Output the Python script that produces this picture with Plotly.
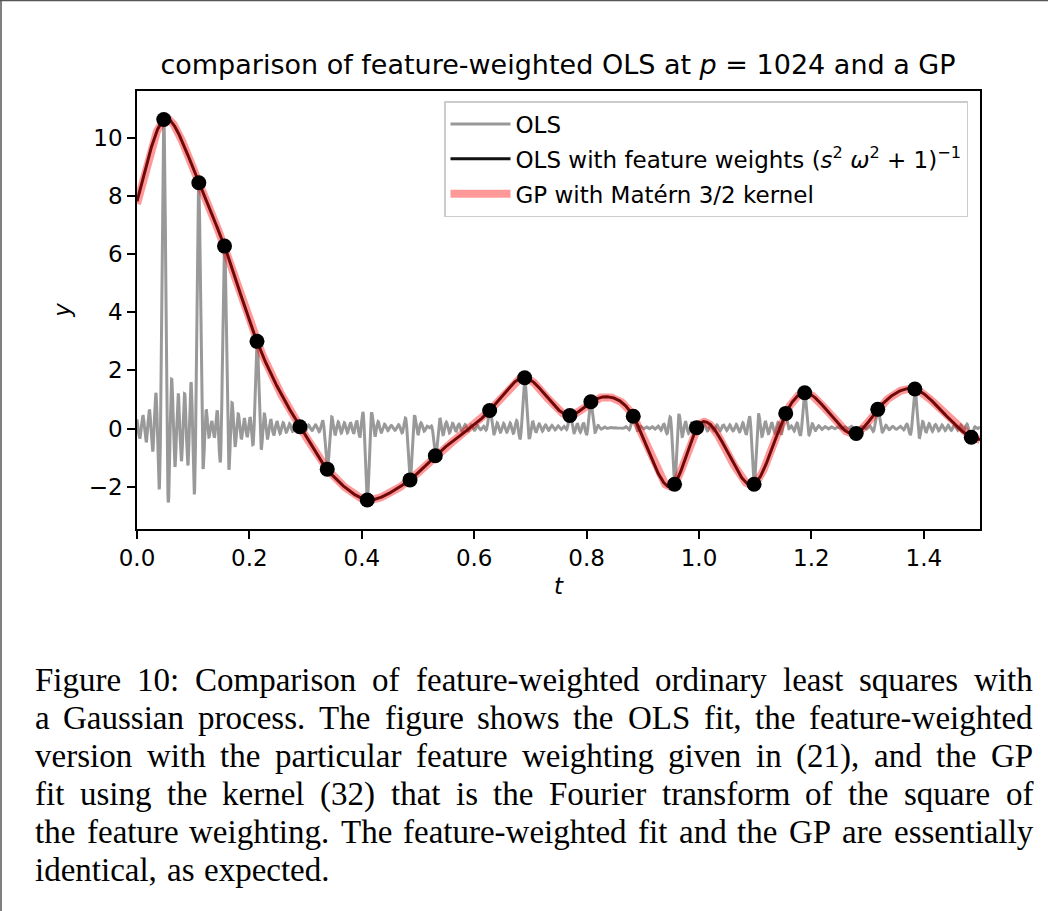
import numpy as np
import plotly.graph_objects as go

t_obs = [0.0476, 0.110, 0.1557, 0.2135, 0.2898, 0.3385, 0.4097, 0.4858, 0.5308,
         0.6275, 0.6898, 0.7702, 0.8076, 0.8830, 0.9565, 0.9957, 1.098,
         1.1543, 1.1881, 1.2797, 1.3181, 1.3841, 1.4845]
y_obs = [10.64, 8.46, 6.28, 3.00, 0.06, -1.40, -2.46, -1.77, -0.94,
         0.62, 1.75, 0.45, 0.92, 0.42, -1.92, 0.03, -1.92,
         0.52, 1.23, -0.17, 0.66, 1.36, -0.30]

# Model settings named in the title / legend
p = 1024          # number of Fourier features
s = 0.05          # length scale in the feature weights
d_omega = 1.1     # frequency spacing

x_ticks = [0.0, 0.2, 0.4, 0.6, 0.8, 1.0, 1.2, 1.4]
y_ticks = [-2, 0, 2, 4, 6, 8, 10]

caption_lines = [
    "Figure 10: Comparison of feature-weighted ordinary least squares with",
    "a Gaussian process. The figure shows the OLS fit, the feature-weighted",
    "version with the particular feature weighting given in (21), and the GP",
    "fit using the kernel (32) that is the Fourier transform of the square of",
    "the feature weighting. The feature-weighted fit and the GP are essentially",
    "identical, as expected.",
]

# ---- fits of the observed samples ----
t_grid = np.linspace(0, 1.5, 3001)
omegas = d_omega * np.arange(p // 2)
tobs = np.array(t_obs)
yobs = np.array(y_obs)


def features(t, w):
    t = np.asarray(t)[:, None]
    return np.hstack([np.cos(t * omegas) * w, np.sin(t * omegas) * w])


def ols_fit(w):
    beta = np.linalg.pinv(features(tobs, w)) @ yobs
    return features(t_grid, w) @ beta


def gp_fit():
    def k(a, b):
        r = np.abs(a[:, None] - b[None, :]) / s
        return (1 + r) * np.exp(-r)
    K = k(tobs, tobs) + 1e-8 * np.eye(len(tobs))
    return k(t_grid, tobs) @ np.linalg.solve(K, yobs)


y_ols = ols_fit(np.ones_like(omegas))
y_wols = ols_fit(1.0 / (s**2 * omegas**2 + 1))
y_gp = gp_fit()

# ---- figure ----
W, H = 1048, 911
L, R, T, B = 137, 980, 91, 529


def px2x(px):
    return (px - L) / (R - L)


def px2y(py):
    return (B - py) / (B - T)


fig = go.Figure()
fig.add_trace(go.Scatter(x=t_grid, y=y_ols, mode='lines', name='OLS',
                         line=dict(color='#999999', width=3),
                         legendgroup='a'))
fig.add_trace(go.Scatter(x=t_grid, y=y_wols, mode='lines',
                         name='OLS with feature weights (<i>s</i><sup>2</sup> <i>ω</i><sup>2</sup> + 1)<sup>−1</sup>',
                         line=dict(color='#111111', width=3),
                         legendgroup='b'))
fig.add_trace(go.Scatter(x=t_grid, y=y_gp, mode='lines',
                         name='GP with Matérn 3/2 kernel',
                         line=dict(color='rgba(255,0,0,0.4)', width=8),
                         legendgroup='c'))
fig.add_trace(go.Scatter(x=t_obs, y=y_obs, mode='markers', showlegend=False,
                         marker=dict(color='black', size=15)))

axis_style = dict(showline=True, linecolor='black', linewidth=1.5, mirror=True,
                  ticks='outside', ticklen=8, tickwidth=1.5, tickcolor='black',
                  showgrid=False, zeroline=False,
                  tickfont=dict(family='DejaVu Sans', size=23, color='black'))

fig.update_xaxes(range=[0, 1.5], tickvals=x_ticks, ticktext=['%.1f' % v for v in x_ticks],
                 title=dict(text='<i>t</i>', font=dict(family='DejaVu Sans', size=23, color='black'),
                            standoff=8), **axis_style)
fig.update_yaxes(range=[-3.46, 11.62], tickvals=y_ticks,
                 title=dict(text='<i>y</i>', font=dict(family='DejaVu Sans', size=23, color='black'),
                            standoff=12), **axis_style)

# Caption, justified word by word (Times metrics, per em)
cw = {' ': .25, 'a': .444, 'b': .5, 'c': .444, 'd': .5, 'e': .444, 'f': .333, 'g': .5,
      'h': .5, 'i': .278, 'j': .278, 'k': .5, 'l': .278, 'm': .778, 'n': .5, 'o': .5,
      'p': .5, 'q': .5, 'r': .333, 's': .389, 't': .278, 'u': .5, 'v': .5, 'w': .722,
      'x': .5, 'y': .5, 'z': .444, 'C': .667, 'F': .556, 'G': .722, 'L': .611,
      'O': .722, 'P': .556, 'S': .556, 'T': .611, '0': .5, '1': .5, '2': .5, '3': .5,
      ':': .278, '.': .25, ',': .25, '-': .333, '(': .333, ')': .333}
cap_size = 33
cap_left, cap_right = 33, 1031
cap_y0, cap_dy = 680, 38
annotations = []
for i, line in enumerate(caption_lines):
    words = line.split(' ')
    widths = [sum(cw.get(c, .5) for c in w) * cap_size for w in words]
    if i < len(caption_lines) - 1:
        gap = (cap_right - cap_left - sum(widths)) / (len(words) - 1)
    else:
        gap = 0.3 * cap_size
    x = cap_left
    for w, wd in zip(words, widths):
        annotations.append(dict(text=w, x=px2x(x), y=px2y(cap_y0 + i * cap_dy),
                                xref='paper', yref='paper', xanchor='left', yanchor='middle',
                                showarrow=False,
                                font=dict(family='Liberation Serif', size=cap_size, color='black')))
        x += wd + gap

# figure frame (top and left edges visible in the reference)
shapes = [
    dict(type='line', xref='paper', yref='paper', x0=px2x(0), x1=px2x(W), y0=px2y(0.5), y1=px2y(0.5),
         line=dict(color='#555555', width=1.5)),
    dict(type='line', xref='paper', yref='paper', x0=px2x(1), x1=px2x(1), y0=px2y(0), y1=px2y(H),
         line=dict(color='#555555', width=1.5)),
]

fig.update_layout(
    width=W, height=H,
    margin=dict(l=L, r=W - R, t=T, b=H - B),
    plot_bgcolor='white', paper_bgcolor='white',
    title=dict(text='comparison of feature-weighted OLS at <i>p</i> = 1024 and a GP',
               x=px2x(558), xref='paper', xanchor='center',
               y=1 - 65 / H, yref='container', yanchor='middle',
               font=dict(family='DejaVu Sans', size=27, color='black')),
    legend=dict(x=px2x(968), y=px2y(101), xanchor='right', yanchor='top',
                bgcolor='rgba(255,255,255,0.8)', bordercolor='#cccccc', borderwidth=1.5,
                font=dict(family='DejaVu Sans', size=23, color='black'),
                itemwidth=60, tracegroupgap=2),
    annotations=annotations,
    shapes=shapes,
    showlegend=True,
)

fig.write_html("out.html", config={'displayModeBar': False},
               post_script="document.body.style.margin='0';")
